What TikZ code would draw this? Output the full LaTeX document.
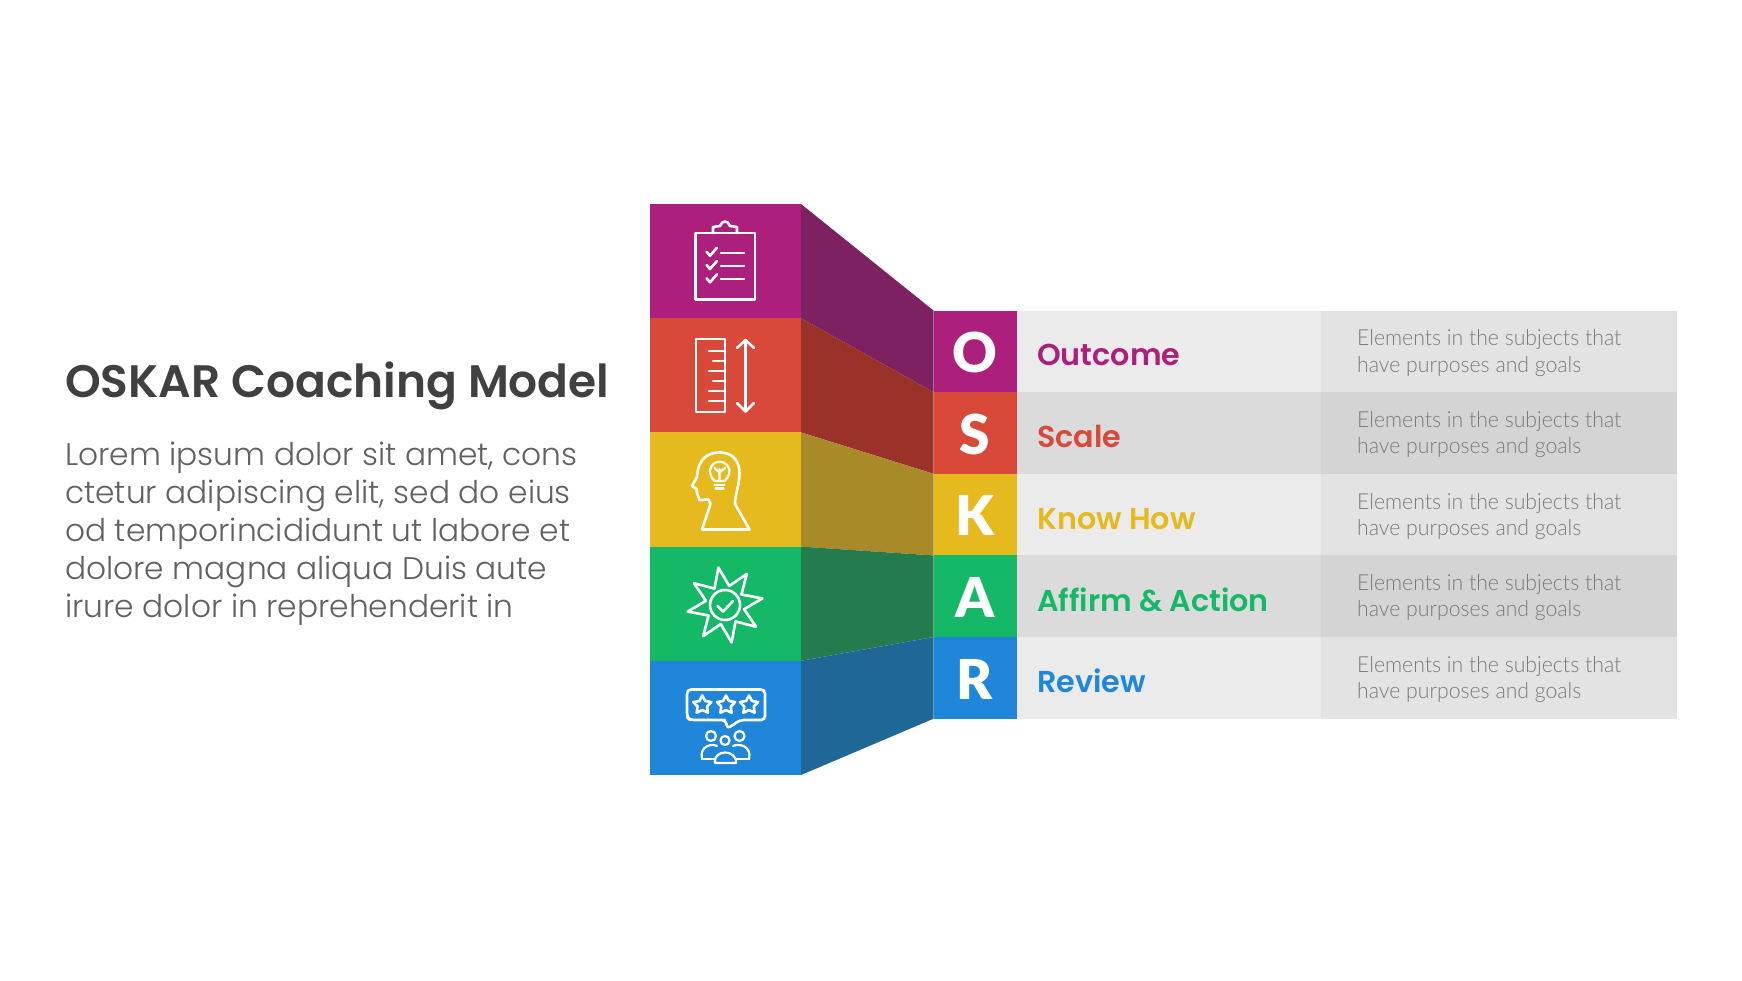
\documentclass[tikz,border=0pt]{standalone}
\usepackage{fontspec}
\usetikzlibrary{shapes.geometric,calc}
\newfontfamily\popfont{Poppins Light}
\newfontfamily\popsb{Poppins SemiBold}
\newfontfamily\latolight[FakeStretch=0.96]{Lato Light}
\newfontfamily\latobold{Lato Black}
\definecolor{cpurple}{HTML}{AC1F7C}
\definecolor{cred}{HTML}{D9493A}
\definecolor{cyellow}{HTML}{E6B91E}
\definecolor{cgreen}{HTML}{14B866}
\definecolor{cblue}{HTML}{1F86D9}
\definecolor{spurple}{HTML}{7D2160}
\definecolor{sred}{HTML}{9A3229}
\definecolor{syellow}{HTML}{A88A28}
\definecolor{sgreen}{HTML}{247B4E}
\definecolor{sblue}{HTML}{1F6796}
\tikzset{
 x=1pt,y=-1pt,
 block/.style={minimum width=151pt,minimum height=114.2pt,inner sep=0,outer sep=0,anchor=north west},
 letterbox/.style={minimum width=83pt,minimum height=81.64pt,inner sep=0,outer sep=0,anchor=north west},
 letter/.style={anchor=base,inner sep=0,text=white,font=\latobold\fontsize{55}{55}\selectfont},
 bandL/.style={minimum width=304.5pt,minimum height=81.64pt,inner sep=0,outer sep=0,anchor=north west},
 bandR/.style={minimum width=356.2pt,minimum height=81.64pt,inner sep=0,outer sep=0,anchor=north west},
 termlabel/.style={anchor=base west,inner sep=0,font=\popsb\fontsize{30.2}{30.2}\selectfont},
 desc/.style={anchor=north west,inner sep=0,align=left,text=black!52,font=\latolight\fontsize{22.1}{26.3}\selectfont},
 ico/.style={draw=white,line width=2.6pt,line join=round,line cap=round},
 icot/.style={draw=white,line width=2.2pt,line join=round,line cap=round},
}
\begin{document}
\begin{tikzpicture}
\useasboundingbox[fill=white] (0,0) rectangle (1742,980);
% text on the left
\node[anchor=base west,inner sep=0,text=black!75,font=\popsb\fontsize{45.5}{45.5}\selectfont] (title) at (65,397) {OSKAR Coaching Model};
\node[anchor=north west,inner sep=0,align=left,text=black!62,font=\popfont\fontsize{31.25}{38}\selectfont] (body) at (65,442.2) {Lorem ipsum dolor sit amet, cons\\ctetur adipiscing elit, sed do eius\\od temporincididunt ut labore et\\dolore magna aliqua Duis aute\\irure dolor in reprehenderit in};
% front blocks
\node[block,fill=cpurple] (b1) at (650,204) {};
\node[block,fill=cred] (b2) at (650,318.2) {};
\node[block,fill=cyellow] (b3) at (650,432.4) {};
\node[block,fill=cgreen] (b4) at (650,546.6) {};
\node[block,fill=cblue] (b5) at (650,660.8) {};
% letter boxes
\node[letterbox,fill=cpurple] (l1) at (933.5,310.5) {};
\node[letterbox,fill=cred] (l2) at (933.5,392.14) {};
\node[letterbox,fill=cyellow] (l3) at (933.5,473.78) {};
\node[letterbox,fill=cgreen] (l4) at (933.5,555.42) {};
\node[letterbox,fill=cblue] (l5) at (933.5,637.06) {};
\node[letter] (g1) at (975,372.5) {O};
\node[letter] (g2) at (975,454.2) {S};
\node[letter] (g3) at (975,535.8) {K};
\node[letter] (g4) at (975,617.5) {A};
\node[letter] (g5) at (975,699.3) {R};
% side faces
\fill[spurple] (b1.north east) -- (l1.north west) -- (l1.south west) -- (b1.south east) -- cycle;
\fill[sred] (b2.north east) -- (l2.north west) -- (l2.south west) -- (b2.south east) -- cycle;
\fill[syellow] (b3.north east) -- (l3.north west) -- (l3.south west) -- (b3.south east) -- cycle;
\fill[sgreen] (b4.north east) -- (l4.north west) -- (l4.south west) -- (b4.south east) -- cycle;
\fill[sblue] (b5.north east) -- (l5.north west) -- (l5.south west) -- (b5.south east) -- cycle;
% bands
\node[bandL,fill=black!8] (m1) at (l1.north east) {};
\node[bandL,fill=black!14] (m2) at (l2.north east) {};
\node[bandL,fill=black!8] (m3) at (l3.north east) {};
\node[bandL,fill=black!14] (m4) at (l4.north east) {};
\node[bandL,fill=black!8] (m5) at (l5.north east) {};
\node[bandR,fill=black!11] (r1) at (m1.north east) {};
\node[bandR,fill=black!17] (r2) at (m2.north east) {};
\node[bandR,fill=black!11] (r3) at (m3.north east) {};
\node[bandR,fill=black!17] (r4) at (m4.north east) {};
\node[bandR,fill=black!11] (r5) at (m5.north east) {};
% labels
\node[termlabel,text=cpurple] (t1) at (1037,365) {Outcome};
\node[termlabel,text=cred] (t2) at (1037,447) {Scale};
\node[termlabel,text=cyellow] (t3) at (1037,529) {Know How};
\node[termlabel,text=cgreen] (t4) at (1037,611) {Affirm \& Action};
\node[termlabel,text=cblue] (t5) at (1037,692.5) {Review};
\node[desc] (d1) at (1357,329.5) {Elements in the subjects that\\have purposes and goals};
\node[desc] (d2) at (1357,411.2) {Elements in the subjects that\\have purposes and goals};
\node[desc] (d3) at (1357,492.8) {Elements in the subjects that\\have purposes and goals};
\node[desc] (d4) at (1357,574.4) {Elements in the subjects that\\have purposes and goals};
\node[desc] (d5) at (1357,656) {Elements in the subjects that\\have purposes and goals};
% clipboard icon
\draw[ico] (695.5,233) rectangle (755,299.3);
\draw[ico] (713,233) -- (713,227) -- (720,226) .. controls (722,220) and (728,220) .. (730,226) -- (737,227) -- (737,233);
\foreach \yy in {251.7,265,278.3}{
 \draw[ico] (706.5,\yy) -- (710,\yy+4) -- (717,\yy-4);
 \draw[icot] (721,\yy+1) -- (744,\yy+1);
}
% ruler icon
\draw[ico] (696,339) rectangle (725,412);
\draw[icot] (709,351) -- (725,351);
\draw[icot] (713,361) -- (725,361);
\draw[icot] (709,371) -- (725,371);
\draw[icot] (713,381) -- (725,381);
\draw[icot] (709,391) -- (725,391);
\draw[icot] (709,401) -- (725,401);
\draw[ico] (745.5,340) -- (745.5,411.5);
\draw[ico] (737,348) -- (745.5,340) -- (754,348);
\draw[ico] (737,403) -- (745.5,411.5) -- (754,403);
% head icon
\draw[ico] (702,529.5) -- (710.5,504) -- (708.5,499.5) .. controls (704,499.5) and (700,500.5) .. (699.5,500) -- (697,493) -- (696.5,489) -- (692,486) -- (697,477) .. controls (698,455) and (712,452.5) .. (720,452.5)
 .. controls (735,452.5) and (739.5,464) .. (739.5,473) .. controls (739.5,485) and (735,495) .. (735,504) -- (749.5,529.5) -- cycle;
\draw[icot] (714.5,481) .. controls (709,475) and (710,470) .. (710,470) .. controls (712,459) and (727,459) .. (729.5,470) .. controls (730,476) and (726,479) .. (724.5,481) -- cycle;
\draw[icot] (719.5,469) -- (719.5,481) (714.5,468) -- (719.5,472.5) -- (725,468);
\draw[icot] (714.5,485) -- (724.5,485) (715.5,488.5) -- (723.5,488.5);
% star burst icon
\node[star,star points=8,star point ratio=1.95,draw=white,line width=2.6pt,line join=round,minimum size=76pt,inner sep=0,shape border rotate=10] (burst) at (725,605) {};
\node[circle,draw=white,line width=2.6pt,minimum size=30pt,inner sep=0] (seal) at (725,605) {};
\draw[ico] (717.5,606) -- (723,611.5) -- (733,601);
% review icon
\draw[ico,rounded corners=4pt] (721,720) -- (690,720) -- (687,717) -- (687,689.5) -- (765,689.5) -- (765,720) -- (740,720) -- (727,729) -- (726,720) -- cycle;
\foreach \xx in {702.3,726,749}{
 \node[star,star points=5,star point ratio=1.9,draw=white,line width=2.6pt,line join=round,minimum size=19pt,inner sep=0] at (\xx,705) {};
}
\draw[icot] (711,736) circle (5);
\draw[icot] (725,740.5) circle (4.5);
\draw[icot] (739.5,736) circle (5);
\draw[icot] (702,759) .. controls (699,746) and (712,743) .. (717,746);
\draw[icot] (702,759) -- (714,759);
\draw[icot] (749,759) .. controls (752,746) and (739,743) .. (733,746);
\draw[icot] (749,759) -- (737,759);
\draw[icot] (715,763) .. controls (713,749) and (737,749) .. (736,763) -- cycle;
\end{tikzpicture}
\end{document}
